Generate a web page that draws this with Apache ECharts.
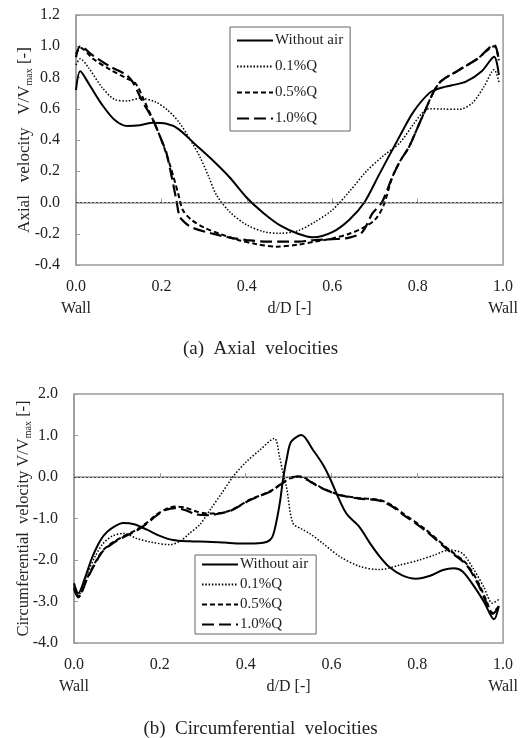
<!DOCTYPE html>
<html>
<head>
<meta charset="utf-8">
<script src="https://cdn.jsdelivr.net/npm/echarts@6/dist/echarts.min.js"></script>
<style>
html,body{margin:0;padding:0;background:#fff;}
#c{width:521px;height:738px;}
</style>
</head>
<body>
<div id="c"></div>
<script>
// ---------- Data ----------
const seriesNames = ['Without air', '0.1%Q', '0.5%Q', '1.0%Q'];

// (a) Axial velocities  [d/D, V/Vmax]
const axialWithoutAir = [[0,0.72],[0.01,0.84],[0.03,0.76],[0.06,0.63],[0.09,0.53],[0.12,0.49],[0.15,0.495],[0.18,0.51],[0.21,0.505],[0.24,0.47],[0.28,0.37],[0.32,0.27],[0.36,0.16],[0.40,0.03],[0.44,-0.07],[0.48,-0.15],[0.52,-0.2],[0.555,-0.223],[0.60,-0.19],[0.64,-0.11],[0.675,0.0],[0.71,0.18],[0.757,0.42],[0.79,0.58],[0.827,0.70],[0.85,0.73],[0.88,0.75],[0.913,0.773],[0.95,0.84],[0.979,0.933],[0.99,0.816]];
const axial01 = [[0,0.88],[0.01,0.92],[0.03,0.86],[0.06,0.74],[0.09,0.66],[0.12,0.65],[0.15,0.667],[0.185,0.645],[0.215,0.59],[0.243,0.507],[0.27,0.39],[0.29,0.293],[0.31,0.17],[0.329,0.048],[0.36,-0.06],[0.40,-0.144],[0.44,-0.187],[0.477,-0.197],[0.52,-0.18],[0.56,-0.123],[0.60,-0.048],[0.64,0.07],[0.68,0.2],[0.72,0.3],[0.757,0.379],[0.79,0.5],[0.81,0.57],[0.827,0.6],[0.86,0.598],[0.897,0.596],[0.928,0.637],[0.955,0.74],[0.979,0.85],[0.991,0.763]];
const axial05 = [[0,0.95],[0.01,0.99],[0.04,0.92],[0.08,0.85],[0.118,0.795],[0.14,0.76],[0.16,0.65],[0.18,0.53],[0.20,0.40],[0.22,0.24],[0.24,0.05],[0.25,-0.048],[0.27,-0.11],[0.30,-0.16],[0.336,-0.2],[0.38,-0.24],[0.42,-0.265],[0.469,-0.283],[0.52,-0.27],[0.56,-0.25],[0.60,-0.23],[0.64,-0.2],[0.67,-0.165],[0.70,-0.11],[0.72,-0.02],[0.741,0.165],[0.76,0.27],[0.78,0.357],[0.811,0.549],[0.85,0.763],[0.897,0.848],[0.94,0.92],[0.979,1.0],[0.99,0.91]];
const axial10 = [[0,0.93],[0.01,1.0],[0.04,0.94],[0.08,0.87],[0.118,0.816],[0.133,0.77],[0.155,0.65],[0.18,0.53],[0.20,0.40],[0.212,0.315],[0.235,0.016],[0.243,-0.09],[0.26,-0.14],[0.274,-0.163],[0.32,-0.2],[0.36,-0.225],[0.40,-0.24],[0.44,-0.25],[0.48,-0.25],[0.52,-0.25],[0.56,-0.24],[0.60,-0.235],[0.64,-0.225],[0.67,-0.19],[0.694,-0.07],[0.716,0.0],[0.741,0.165],[0.76,0.27],[0.78,0.357],[0.811,0.549],[0.85,0.763],[0.897,0.848],[0.94,0.92],[0.979,1.008],[0.99,0.91]];

// (b) Circumferential velocities  [d/D, V/Vmax]
const circWithoutAir = [[0,-2.56],[0.01,-2.8],[0.025,-2.45],[0.04,-2.0],[0.055,-1.65],[0.07,-1.4],[0.09,-1.22],[0.115,-1.11],[0.14,-1.14],[0.17,-1.27],[0.2,-1.42],[0.23,-1.52],[0.27,-1.55],[0.31,-1.56],[0.35,-1.58],[0.39,-1.6],[0.42,-1.6],[0.45,-1.56],[0.462,-1.45],[0.471,-1.11],[0.48,-0.6],[0.487,-0.07],[0.496,0.45],[0.506,0.85],[0.53,1.01],[0.557,0.65],[0.58,0.3],[0.595,0.0],[0.634,-0.87],[0.665,-1.2],[0.69,-1.6],[0.712,-1.91],[0.735,-2.17],[0.765,-2.37],[0.797,-2.45],[0.83,-2.38],[0.86,-2.24],[0.885,-2.2],[0.905,-2.27],[0.93,-2.6],[0.955,-3.0],[0.979,-3.43],[0.99,-3.11]];
const circ01 = [[0,-2.6],[0.01,-2.85],[0.03,-2.35],[0.05,-1.9],[0.068,-1.6],[0.09,-1.42],[0.115,-1.36],[0.146,-1.48],[0.18,-1.57],[0.223,-1.63],[0.247,-1.55],[0.27,-1.35],[0.293,-1.15],[0.32,-0.75],[0.345,-0.38],[0.37,0.0],[0.40,0.35],[0.433,0.65],[0.467,0.93],[0.479,0.49],[0.487,0.1],[0.495,-0.23],[0.51,-1.11],[0.53,-1.25],[0.549,-1.36],[0.58,-1.6],[0.62,-1.92],[0.665,-2.15],[0.712,-2.23],[0.76,-2.12],[0.805,-2.0],[0.84,-1.88],[0.874,-1.76],[0.905,-1.84],[0.93,-2.2],[0.955,-2.65],[0.975,-3.04],[0.99,-2.95]];
const circ05 = [[0,-2.65],[0.01,-2.88],[0.03,-2.45],[0.05,-2.05],[0.068,-1.76],[0.09,-1.58],[0.115,-1.43],[0.146,-1.27],[0.17,-1.1],[0.192,-0.91],[0.215,-0.77],[0.235,-0.71],[0.26,-0.74],[0.285,-0.83],[0.31,-0.88],[0.34,-0.87],[0.37,-0.78],[0.409,-0.55],[0.44,-0.42],[0.463,-0.31],[0.49,-0.11],[0.518,0.02],[0.533,0.0],[0.55,-0.1],[0.572,-0.23],[0.6,-0.36],[0.619,-0.43],[0.665,-0.51],[0.712,-0.55],[0.74,-0.68],[0.766,-0.87],[0.82,-1.27],[0.874,-1.75],[0.913,-2.07],[0.94,-2.5],[0.96,-2.95],[0.975,-3.27],[0.99,-3.11]];
const circ10 = [[0,-2.7],[0.01,-2.9],[0.03,-2.47],[0.05,-2.07],[0.068,-1.78],[0.09,-1.6],[0.115,-1.45],[0.146,-1.29],[0.17,-1.12],[0.192,-0.93],[0.215,-0.79],[0.235,-0.75],[0.26,-0.8],[0.285,-0.9],[0.31,-0.92],[0.34,-0.88],[0.37,-0.79],[0.409,-0.56],[0.44,-0.43],[0.463,-0.32],[0.49,-0.12],[0.518,0.01],[0.533,-0.01],[0.55,-0.11],[0.572,-0.24],[0.6,-0.37],[0.619,-0.44],[0.665,-0.52],[0.712,-0.57],[0.74,-0.7],[0.766,-0.9],[0.82,-1.3],[0.874,-1.78],[0.913,-2.1],[0.94,-2.55],[0.96,-3.0],[0.975,-3.3],[0.99,-3.15]];

const xTicks = [0, 0.2, 0.4, 0.6, 0.8, 1.0];
const axialYTicks = [-0.4, -0.2, 0.0, 0.2, 0.4, 0.6, 0.8, 1.0, 1.2];
const circYTicks = [-4, -3, -2, -1, 0, 1, 2];

// ---------- Styles ----------
const FONT = '"Liberation Serif", "DejaVu Serif", serif';
const TXT = '#222';
const AX = '#9a9a9a';
const styles = [
  {type: 'solid', width: 2},
  {type: [1.5, 1.8], width: 1.5},
  {type: [5, 3], width: 2},
  {type: [12, 5], width: 2.2}
];

function mkSeries(name, data, idx, st, withZero) {
  const s = {
    name: name, type: 'line', data: data, xAxisIndex: idx, yAxisIndex: idx,
    showSymbol: false, symbol: 'none', smooth: 0.3,
    lineStyle: {color: '#000', width: st.width, type: st.type},
    itemStyle: {color: '#000'}, z: 3
  };
  if (withZero) {
    s.markLine = {silent: true, symbol: 'none', label: {show: false},
      lineStyle: {color: '#444', type: [2, 2], width: 1}, data: [{yAxis: 0}]};
  }
  return s;
}

function xAxisCfg(gi) {
  return {
    type: 'value', gridIndex: gi, min: xTicks[0], max: xTicks[xTicks.length-1], interval: 0.2,
    name: 'd/D [-]', nameLocation: 'middle', nameGap: 36, nameMoveOverlap: false,
    nameTextStyle: {fontFamily: FONT, fontSize: 16, color: TXT},
    axisLine: {show: true, lineStyle: {color: AX, width: 1.5}},
    axisTick: {show: true, inside: true, length: 4, lineStyle: {color: AX}},
    splitLine: {show: false},
    axisLabel: {fontFamily: FONT, fontSize: 16, color: TXT, margin: 11, lineHeight: 22,
      formatter: v => (v === 0 || v === 1) ? v.toFixed(1) + '\nWall' : v.toFixed(1)}
  };
}

function yAxisCfg(gi, ticks, interval, nameMain, gap, fs) {
  return {
    type: 'value', gridIndex: gi, min: ticks[0], max: ticks[ticks.length-1], interval: interval,
    name: '{a|' + nameMain + ' V/V}{s|max}{a| [-]}', nameLocation: 'middle', nameRotate: 90, nameGap: gap,
    nameMoveOverlap: false,
    nameTextStyle: {fontFamily: FONT, color: TXT,
      rich: {a: {fontFamily: FONT, fontSize: fs, color: TXT, lineHeight: 18},
             s: {fontFamily: FONT, fontSize: 10, color: TXT, lineHeight: 18, verticalAlign: 'bottom', padding: [6, 0, 0, 0]}}},
    axisLine: {show: true, lineStyle: {color: AX, width: 1.5}},
    axisTick: {show: true, inside: true, length: 4, lineStyle: {color: AX}},
    splitLine: {show: false},
    axisLabel: {fontFamily: FONT, fontSize: 16, color: TXT, margin: 16,
      formatter: v => v.toFixed(1)}
  };
}

const legendCommon = {
  data: seriesNames, orient: 'vertical', itemWidth: 36, itemHeight: 14,
  borderColor: '#666', borderWidth: 1, backgroundColor: '#fff', selectedMode: false,
  itemStyle: {opacity: 0, borderWidth: 0},
  textStyle: {fontFamily: FONT, fontSize: 15, color: TXT, padding: [0, 0, 0, -3]}
};

const chart = echarts.init(document.getElementById('c'), null, {renderer: 'canvas'});
const option = {
  backgroundColor: '#fff',
  animation: false,
  title: [
    {text: '(a)  Axial  velocities', left: 'center', top: 335,
     textStyle: {fontFamily: FONT, fontSize: 19, fontWeight: 'normal', color: TXT}},
    {text: '(b)  Circumferential  velocities', left: 'center', top: 715,
     textStyle: {fontFamily: FONT, fontSize: 19, fontWeight: 'normal', color: TXT}}
  ],
  grid: [
    {left: 76, top: 15, width: 428, height: 250, show: true, borderColor: AX, borderWidth: 1.5, backgroundColor: 'transparent'},
    {left: 74, top: 394, width: 430, height: 249, show: true, borderColor: AX, borderWidth: 1.5, backgroundColor: 'transparent'}
  ],
  legend: [
    Object.assign({}, legendCommon, {left: 230, top: 27, itemGap: 11, padding: [6, 7, 5, 6]}),
    Object.assign({}, legendCommon, {left: 195, top: 555, itemGap: 5, padding: [2, 8, 2, 6]})
  ],
  xAxis: [xAxisCfg(0), xAxisCfg(1)],
  yAxis: [
    yAxisCfg(0, axialYTicks, 0.2, 'Axial   velocity  ', 42, 17),
    yAxisCfg(1, circYTicks, 1, 'Circumferential  velocity', 41, 16.5)
  ],
  series: [
    mkSeries(seriesNames[0], axialWithoutAir, 0, styles[0], true),
    mkSeries(seriesNames[1], axial01, 0, styles[1], false),
    mkSeries(seriesNames[2], axial05, 0, styles[2], false),
    mkSeries(seriesNames[3], axial10, 0, styles[3], false),
    mkSeries(seriesNames[0], circWithoutAir, 1, styles[0], true),
    mkSeries(seriesNames[1], circ01, 1, styles[1], false),
    mkSeries(seriesNames[2], circ05, 1, styles[2], false),
    mkSeries(seriesNames[3], circ10, 1, styles[3], false)
  ]
};
chart.setOption(option);
</script>
</body>
</html>
